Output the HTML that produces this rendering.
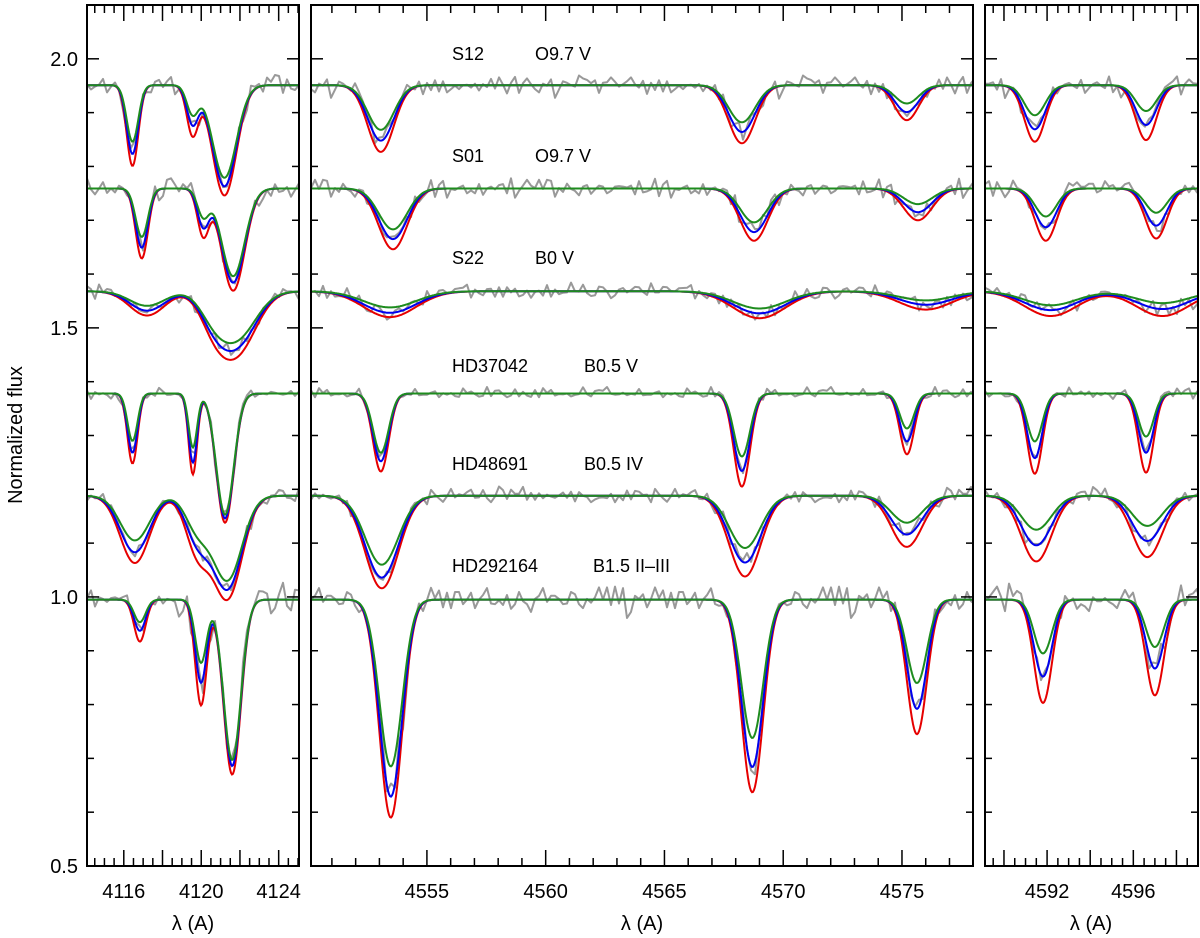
<!DOCTYPE html>
<html><head><meta charset="utf-8"><style>
html,body{margin:0;padding:0;background:#fff;}
svg{display:block;font-family:"Liberation Sans","DejaVu Sans",sans-serif;}
</style></head><body>
<svg id="chart" width="1200" height="938" viewBox="0 0 1200 938" xmlns="http://www.w3.org/2000/svg">
<text x="22" y="435" font-size="20" text-anchor="middle" transform="rotate(-90 22 435)">Normalized flux</text>
<text x="193" y="930" font-size="20" text-anchor="middle">λ (A)</text>
<text x="642" y="930" font-size="20" text-anchor="middle">λ (A)</text>
<text x="1091" y="930" font-size="20" text-anchor="middle">λ (A)</text>
<g font-size="18">
<text x="452" y="60">S12</text><text x="535" y="60">O9.7 V</text>
<text x="452" y="162">S01</text><text x="535" y="162">O9.7 V</text>
<text x="452" y="264">S22</text><text x="535" y="264">B0 V</text>
<text x="452" y="372">HD37042</text><text x="584" y="372">B0.5 V</text>
<text x="452" y="470">HD48691</text><text x="584" y="470">B0.5 IV</text>
<text x="452" y="572">HD292164</text><text x="593" y="572">B1.5 II–III</text>
</g>
</svg>
<script>
const stars = ["S12","S01","S22","HD37042","HD48691","HD292164"];
const continua = [1.951, 1.759, 1.568, 1.378, 1.188, 0.995];
const noiseAmp = [1.2, 1.2, 0.9, 0.7, 1.0, 1.9];
// each line: [center, sigma, depthRed, depthBlue, depthGreen]
const leftLines = [
 [[4116.45,0.30,0.150,0.128,0.105],[4119.55,0.30,0.090,0.070,0.052],[4121.20,0.62,0.205,0.188,0.172]],
 [[4116.93,0.32,0.130,0.110,0.090],[4120.10,0.30,0.085,0.068,0.050],[4121.65,0.60,0.190,0.175,0.163]],
 [[4117.20,0.90,0.045,0.036,0.027],[4120.60,0.70,0.040,0.035,0.030],[4121.80,1.00,0.115,0.100,0.087]],
 [[4116.45,0.26,0.130,0.110,0.088],[4119.57,0.22,0.150,0.128,0.100],[4121.23,0.45,0.240,0.232,0.225]],
 [[4116.57,0.75,0.125,0.105,0.083],[4119.80,0.60,0.100,0.080,0.060],[4121.35,0.75,0.190,0.172,0.156]],
 [[4116.83,0.30,0.078,0.058,0.042],[4119.99,0.30,0.196,0.154,0.117],[4121.60,0.45,0.325,0.309,0.298]]
];
const midLines = [
 [[4553.06,0.55,0.124,0.103,0.083],[4568.26,0.56,0.108,0.087,0.069],[4575.20,0.50,0.065,0.050,0.034]],
 [[4553.57,0.60,0.113,0.094,0.076],[4568.77,0.58,0.097,0.081,0.063],[4575.67,0.60,0.059,0.044,0.029]],
 [[4553.44,1.10,0.048,0.040,0.030],[4569.00,1.10,0.050,0.041,0.032],[4576.00,1.10,0.034,0.025,0.017]],
 [[4553.06,0.33,0.145,0.126,0.110],[4568.26,0.34,0.173,0.144,0.117],[4575.21,0.30,0.113,0.089,0.065]],
 [[4553.10,0.70,0.172,0.152,0.128],[4568.39,0.66,0.150,0.124,0.097],[4575.20,0.65,0.095,0.072,0.050]],
 [[4553.48,0.48,0.405,0.366,0.310],[4568.70,0.46,0.358,0.311,0.257],[4575.63,0.42,0.250,0.203,0.155]]
];
const rightLines = [
 [[4591.43,0.48,0.105,0.082,0.056],[4596.59,0.48,0.102,0.074,0.048]],
 [[4591.94,0.50,0.097,0.072,0.052],[4597.06,0.50,0.093,0.069,0.045]],
 [[4592.17,1.20,0.046,0.035,0.026],[4597.35,1.20,0.046,0.033,0.022]],
 [[4591.43,0.35,0.149,0.120,0.089],[4596.59,0.35,0.147,0.110,0.080]],
 [[4591.50,0.70,0.122,0.092,0.063],[4596.65,0.70,0.114,0.084,0.056]],
 [[4591.81,0.42,0.192,0.143,0.100],[4597.00,0.42,0.178,0.128,0.088]]
];
const noise = [0.004,-0.008,0.011,-0.003,0.006,-0.012,0.002,0.009,-0.006,0.001,-0.010,0.007,0.003,-0.005,0.012,-0.002,-0.009,0.005,0.000,0.008,-0.011,0.004,-0.001,0.010,-0.007,0.002,0.006,-0.004,-0.013,0.009,0.001,-0.006,0.011,-0.003,0.005,-0.009,0.007,-0.001,0.003,-0.008,0.010,-0.012,0.004,0.006,-0.002,-0.007,0.009,0.002,-0.010,0.005,0.001,-0.004,0.008,-0.009,0.012,-0.001];
const yTickLabels = ["0.5","1.0","1.5","2.0"];
const leftTickLabels = ["4116","4120","4124"];
const midTickLabels = ["4555","4560","4565","4570","4575"];
const rightTickLabels = ["4592","4596"];

const NS = "http://www.w3.org/2000/svg";
const svg = document.getElementById("chart");
const Y0 = 866, YT = 5, FMIN = 0.5, FMAX = 2.1;
function yPix(f){ return Y0 - (f - FMIN) / (FMAX - FMIN) * (Y0 - YT); }
const panels = [
 {name:"left", x0:87, x1:299, l0:4114.1, l1:4125.05, minor:0.5, major:2, lines:leftLines, labels:leftTickLabels, ylabels:true},
 {name:"middle", x0:311, x1:973, l0:4550.12, l1:4577.99, minor:1, major:5, lines:midLines, labels:midTickLabels, ylabels:false},
 {name:"right", x0:985, x1:1198, l0:4589.12, l1:4599.0, minor:0.5, major:2, lines:rightLines, labels:rightTickLabels, ylabels:false}
];
function mk(tag, attrs){ const e = document.createElementNS(NS, tag); for (const k in attrs) e.setAttribute(k, attrs[k]); return e; }
function model(lines, cont, lam, k){ let f = cont; for (const L of lines) f -= L[2+k] * Math.exp(-0.5 * Math.pow((lam - L[0]) / L[1], 2)); return f; }
const colors = ["#e60000","#0000ee","#1e8c1e"];
const modelNames = ["red","blue","green"];

panels.forEach((p, pi) => {
  const xPix = lam => p.x0 + (lam - p.l0) / (p.l1 - p.l0) * (p.x1 - p.x0);
  const g = mk("g", {});
  
  
  svg.appendChild(g);
  const clipId = "clip" + pi;
  const cp = mk("clipPath", {id: clipId});
  cp.appendChild(mk("rect", {x:p.x0, y:YT, width:p.x1-p.x0, height:Y0-YT}));
  g.appendChild(cp);
  const plot = mk("g", {"clip-path": "url(#" + clipId + ")"});
  g.appendChild(plot);
  stars.forEach((s, si) => {
    const lines = p.lines[si];
    let d = "";
    let n = 0;
    for (let x = p.x0; x <= p.x1 + 3; x += 4) {
      const lam = p.l0 + (x - p.x0) / (p.x1 - p.x0) * (p.l1 - p.l0);
      const nz = (noise[(n * 3 + si * 7 + pi * 13) % noise.length] + noise[(n * 5 + si * 11 + 3) % noise.length]) * 0.75;
      const f = model(lines, continua[si], lam, 1) + nz * noiseAmp[si];
      d += (n ? "L" : "M") + x.toFixed(1) + "," + yPix(f).toFixed(1);
      n++;
    }
    const obs = mk("path", {d:d, fill:"none", stroke:"#999", "stroke-width":2, "stroke-linejoin":"round"});
    
    
    plot.appendChild(obs);
    for (let k = 0; k < 3; k++) {
      let dm = "";
      let m = 0;
      for (let x = p.x0; x <= p.x1; x += 1) {
        const lam = p.l0 + (x - p.x0) / (p.x1 - p.x0) * (p.l1 - p.l0);
        dm += (m ? "L" : "M") + x + "," + yPix(model(lines, continua[si], lam, k)).toFixed(1);
        m++;
      }
      const path = mk("path", {d:dm, fill:"none", stroke:colors[k], "stroke-width":2});
      
      
      plot.appendChild(path);
    }
  });
  const frame = mk("rect", {x:p.x0, y:YT, width:p.x1-p.x0, height:Y0-YT, fill:"none", stroke:"#000", "stroke-width":2});
  
  
  g.appendChild(frame);
  const start = Math.ceil(p.l0 / p.minor) * p.minor;
  for (let lam = start; lam <= p.l1 + 1e-6; lam += p.minor) {
    const r = Math.round(lam * 100) / 100;
    const isMaj = Math.abs(r / p.major - Math.round(r / p.major)) < 1e-6;
    const len = isMaj ? 16 : 8;
    const x = xPix(r);
    g.appendChild(mk("line", {x1:x, x2:x, y1:Y0, y2:Y0-len, stroke:"#000", "stroke-width":1.5}));
    g.appendChild(mk("line", {x1:x, x2:x, y1:YT, y2:YT+len, stroke:"#000", "stroke-width":1.5}));
  }
  p.labels.forEach(t => {
    const tx = mk("text", {x:xPix(parseFloat(t)), y:898, "font-size":20, "text-anchor":"middle"});
    tx.textContent = t;
    
    
    g.appendChild(tx);
  });
  for (let i = 0; i <= 16; i++) {
    const f = FMIN + i * 0.1;
    const y = yPix(f);
    const len = (i % 5 === 0) ? 12 : 7;
    g.appendChild(mk("line", {x1:p.x0, x2:p.x0+len, y1:y, y2:y, stroke:"#000", "stroke-width":1.5}));
    g.appendChild(mk("line", {x1:p.x1, x2:p.x1-len, y1:y, y2:y, stroke:"#000", "stroke-width":1.5}));
  }
  if (p.ylabels) {
    yTickLabels.forEach(t => {
      const ty = mk("text", {x:78, y:yPix(parseFloat(t)) + 7, "font-size":20, "text-anchor":"end"});
      ty.textContent = t;
      
      
      g.appendChild(ty);
    });
  }
});
</script>
</body></html>
